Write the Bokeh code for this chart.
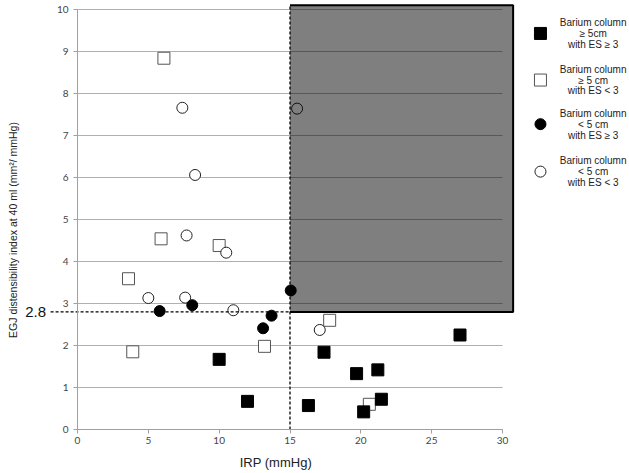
import math
from bokeh.plotting import figure
from bokeh.models import FixedTicker, Range1d, Label, Grid
from bokeh.embed import file_html
from bokeh.resources import INLINE

# ---------------- data ----------------
# Barium column >= 5 cm with ES >= 3 (filled squares)
fsq_x = [10.0, 12.0, 16.3, 17.4, 19.7, 20.2, 21.2, 21.45, 27.0]
fsq_y = [1.67, 0.67, 0.57, 1.84, 1.33, 0.42, 1.42, 0.72, 2.25]
# Barium column >= 5 cm with ES < 3 (open squares)
osq_x = [6.1, 5.9, 10.0, 3.6, 3.9, 13.2, 17.8, 20.6]
osq_y = [8.84, 4.54, 4.38, 3.59, 1.85, 1.98, 2.60, 0.60]
# Barium column < 5 cm with ES >= 3 (filled circles)
fci_x = [5.8, 8.1, 13.1, 13.7, 15.05]
fci_y = [2.82, 2.96, 2.41, 2.71, 3.31]
# Barium column < 5 cm with ES < 3 (open circles)
oci_x = [7.4, 8.3, 7.7, 10.5, 5.0, 7.6, 11.0, 17.1, 15.5]
oci_y = [7.66, 6.06, 4.62, 4.21, 3.13, 3.14, 2.84, 2.37, 7.64]

x_ticks = [0, 5, 10, 15, 20, 25, 30]
y_ticks = [0, 1, 2, 3, 4, 5, 6, 7, 8, 9, 10]
IRP_CUTOFF = 15
EDI_CUTOFF = 2.8
cutoff_label = "2.8"
x_title = "IRP (mmHg)"
y_title = "EGJ distensibility index at 40 ml (mm\u00b2/ mmHg)"
legend_texts = [
    ["Barium column", "\u2265 5cm", "with ES \u2265 3"],
    ["Barium column", "\u2265 5 cm", "with ES < 3"],
    ["Barium column", "< 5 cm", "with ES \u2265 3"],
    ["Barium column", "< 5 cm", "with ES < 3"],
]

# ---------------- layout constants ----------------
W, H = 629, 473
X0_PX, X30_PX = 77, 502          # screen position of x = 0 and x = 30
Y0_PX, Y10_PX = 429, 9           # screen position of y = 0 and y = 10
xs = (X30_PX - X0_PX) / 30.0
ys = (Y0_PX - Y10_PX) / 10.0
x_lo, x_hi = -X0_PX / xs, (W - X0_PX) / xs
y_lo, y_hi = -(H - Y0_PX) / ys, Y0_PX / ys

X_AXIS_MAX = 30
Y_AXIS_MAX = 10
RECT_TOP = 10.1
RECT_RIGHT = 30.75
DASH_LEFT = -1.9
LABEL_X = -2.96
XTITLE_POS = (14.0, -0.79)
YTITLE_POS = (-4.52, 4.75)
LEG_X_MARK = 32.68
LEG_X_TEXT = 36.4
LEG_Y = [9.43, 8.32, 7.27, 6.14]
LEG_DY = 0.26

p = figure(width=W, height=H, output_backend="svg", toolbar_location=None,
           x_range=Range1d(x_lo, x_hi), y_range=Range1d(y_lo, y_hi),
           min_border_left=0, min_border_right=0, min_border_top=0,
           min_border_bottom=0)
p.outline_line_color = None
p.background_fill_color = "white"
p.border_fill_color = "white"

p.xgrid.visible = False
p.ygrid.ticker = FixedTicker(ticks=y_ticks)
p.ygrid.grid_line_color = "#b0b0b0"
p.ygrid.grid_line_width = 1
p.ygrid.bounds = (0, Y_AXIS_MAX)
if "cross_bounds" in Grid.properties():
    p.ygrid.cross_bounds = (0, X_AXIS_MAX)

for ax in (p.xaxis[0], p.yaxis[0]):
    ax.fixed_location = 0
    ax.axis_line_color = "#a0a0a0"
    ax.major_tick_line_color = "#a0a0a0"
    ax.major_tick_out = 4
    ax.major_tick_in = 0
    ax.minor_tick_line_color = None
    ax.major_label_text_font = "Lato"
    ax.major_label_text_font_size = "10px"
    ax.major_label_text_color = "#444444"

p.xaxis.ticker = FixedTicker(ticks=x_ticks)
p.yaxis.ticker = FixedTicker(ticks=y_ticks)
p.xaxis.bounds = (0, X_AXIS_MAX)
p.yaxis.bounds = (0, Y_AXIS_MAX)
p.xaxis.major_label_standoff = 3
p.yaxis.major_label_standoff = 5

# axis titles
p.add_layout(Label(x=XTITLE_POS[0], y=XTITLE_POS[1], text=x_title,
                   text_align="center", text_baseline="middle",
                   text_font="Liberation Sans", text_font_size="13px",
                   text_color="#222222"))
p.add_layout(Label(x=YTITLE_POS[0], y=YTITLE_POS[1], text=y_title,
                   angle=math.pi / 2, text_align="center", text_baseline="middle",
                   text_font="Liberation Sans", text_font_size="10.5px",
                   text_color="#222222"))

# ---------------- data marks ----------------
SQ = 12
CI = 11
p.scatter(osq_x, osq_y, marker="square", size=SQ, fill_color="white",
          line_color="#555555", line_width=1)
p.scatter(fsq_x, fsq_y, marker="square", size=SQ, fill_color="black",
          line_color="black")
p.scatter(oci_x, oci_y, marker="circle", size=CI, fill_color="white",
          line_color="#222222", line_width=1)

# shaded region (semi-transparent box)
p.quad(left=[IRP_CUTOFF], right=[RECT_RIGHT], bottom=[EDI_CUTOFF], top=[RECT_TOP],
       fill_color="black", fill_alpha=0.5, line_color=None)
p.line(x=[IRP_CUTOFF, RECT_RIGHT, RECT_RIGHT, IRP_CUTOFF],
       y=[RECT_TOP, RECT_TOP, EDI_CUTOFF, EDI_CUTOFF],
       line_color="black", line_width=2)
p.line(x=[IRP_CUTOFF, IRP_CUTOFF], y=[0, RECT_TOP], line_color="black",
       line_width=1.3, line_dash="3 2")
p.line(x=[DASH_LEFT, IRP_CUTOFF], y=[EDI_CUTOFF, EDI_CUTOFF], line_color="black",
       line_width=1.3, line_dash="3 2")

p.scatter(fci_x, fci_y, marker="circle", size=CI, fill_color="black",
          line_color="black")

p.add_layout(Label(x=LABEL_X, y=EDI_CUTOFF, text=cutoff_label, text_align="center",
                   text_baseline="middle", text_font="Liberation Sans",
                   text_font_size="15px", text_color="#111111"))

# ---------------- legend ----------------
styles = [
    dict(marker="square", size=SQ, fill_color="black", line_color="black"),
    dict(marker="square", size=SQ, fill_color="white", line_color="#555555"),
    dict(marker="circle", size=CI, fill_color="black", line_color="black"),
    dict(marker="circle", size=CI, fill_color="white", line_color="#222222"),
]
for st, ly, lines in zip(styles, LEG_Y, legend_texts):
    p.scatter([LEG_X_MARK], [ly], line_width=1, **st)
    for k, t in enumerate(lines):
        p.add_layout(Label(x=LEG_X_TEXT, y=ly + (1 - k) * LEG_DY, text=t,
                           text_align="center", text_baseline="middle",
                           text_font="Liberation Sans", text_font_size="10px",
                           text_color="#222222"))

open("out.html", "w").write(file_html(p, INLINE))
